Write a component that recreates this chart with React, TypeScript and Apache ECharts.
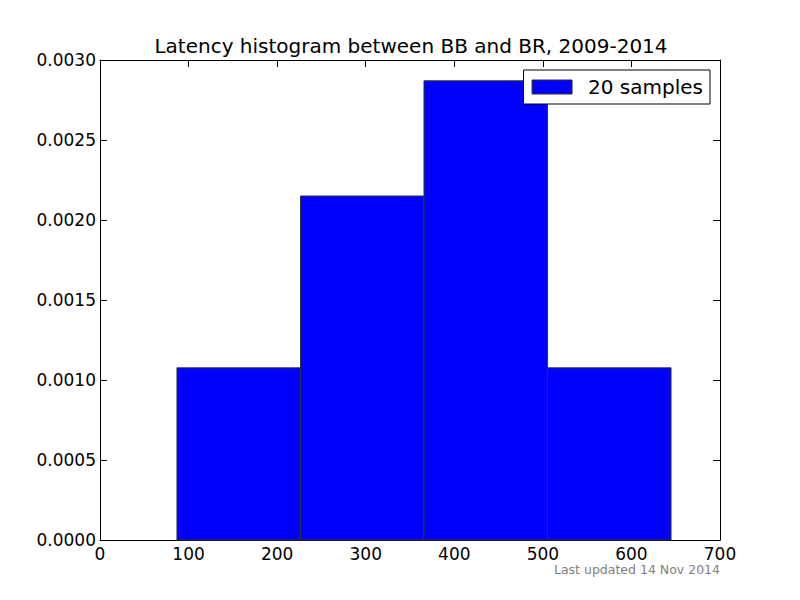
import React, { useEffect, useRef } from "react";
import * as echarts from "echarts";

const binEdges = [86.9, 226.4, 365.8, 505.3, 644.7];
const density = [0.001076, 0.00215, 0.00287, 0.001076];
const seriesName = "20 samples";
const titleText = "Latency histogram between BB and BR, 2009-2014";
const footerText = "Last updated 14 Nov 2014";

export default function App() {
  const ref = useRef<HTMLDivElement>(null);
  useEffect(() => {
    if (!ref.current) return;
    const chart = echarts.init(ref.current, null, { renderer: "svg" });
    const font = "DejaVu Sans";
    const data = density.map((d, i) => [binEdges[i], binEdges[i + 1], d]);
    const axisCommon = () => ({
      axisLine: { show: true, onZero: false, lineStyle: { color: "#000", width: 1 } },
      axisTick: { show: true, inside: true, length: 7, lineStyle: { color: "#000" } },
      splitLine: { show: false },
    });
    chart.setOption({
      animation: false,
      backgroundColor: "#fff",
      textStyle: { fontFamily: font },
      title: {
        text: titleText,
        left: 406,
        textAlign: "center",
        top: 31,
        textStyle: { fontFamily: font, fontSize: 20, fontWeight: "normal", color: "#000" },
      },
      legend: {
        right: 90,
        top: 70,
        z: 10,
        orient: "vertical",
        backgroundColor: "#fff",
        borderColor: "#000",
        borderWidth: 1,
        padding: [7, 7, 7, 8],
        itemWidth: 40,
        itemHeight: 14,
        itemGap: 0,
        icon: "rect",
        itemStyle: { color: "#0000ff", borderColor: "#333333", borderWidth: 1 },
        textStyle: { fontFamily: font, fontSize: 20, color: "#000", padding: [0, 0, 0, 11] },
        data: [{ name: seriesName, icon: "rect" }],
      },
      grid: { left: 100, right: 80, top: 60, bottom: 60, containLabel: false },
      xAxis: [
        {
          type: "value",
          min: 0,
          max: 700,
          interval: 100,
          position: "bottom",
          ...axisCommon(),
          axisLabel: { fontFamily: font, fontSize: 17, color: "#000", margin: 5 },
        },
        {
          type: "value",
          min: 0,
          max: 700,
          interval: 100,
          position: "top",
          ...axisCommon(),
          axisLabel: { show: false },
        },
      ],
      yAxis: [
        {
          type: "value",
          min: 0,
          max: 0.003,
          interval: 0.0005,
          position: "left",
          ...axisCommon(),
          axisLabel: {
            fontFamily: font,
            fontSize: 17,
            color: "#000",
            margin: 4,
            formatter: (v: number) => v.toFixed(4),
          },
        },
        {
          type: "value",
          min: 0,
          max: 0.003,
          interval: 0.0005,
          position: "right",
          ...axisCommon(),
          axisLabel: { show: false },
        },
      ],
      series: [
        {
          name: seriesName,
          type: "custom",
          xAxisIndex: 0,
          yAxisIndex: 0,
          z: 2,
          itemStyle: { color: "#0000ff", borderColor: "#333333", borderWidth: 1 },
          encode: { x: [0, 1], y: 2 },
          data,
          renderItem: (params: any, api: any) => {
            const p0 = api.coord([api.value(0), api.value(2)]);
            const p1 = api.coord([api.value(1), 0]);
            return {
              type: "rect",
              shape: { x: p0[0], y: p0[1], width: p1[0] - p0[0], height: p1[1] - p0[1] },
              style: { fill: "#0000ff", stroke: "#333333", lineWidth: 1 },
            };
          },
        },
      ],
      graphic: [
        {
          type: "text",
          right: 80,
          top: 563,
          style: { text: footerText, fontFamily: font, fontSize: 12.5, fill: "#808080" },
        },
      ],
    });
    return () => chart.dispose();
  }, []);
  return (
    <div
      ref={ref}
      style={{ position: "absolute", left: 0, top: 0, width: 800, height: 600 }}
    />
  );
}
